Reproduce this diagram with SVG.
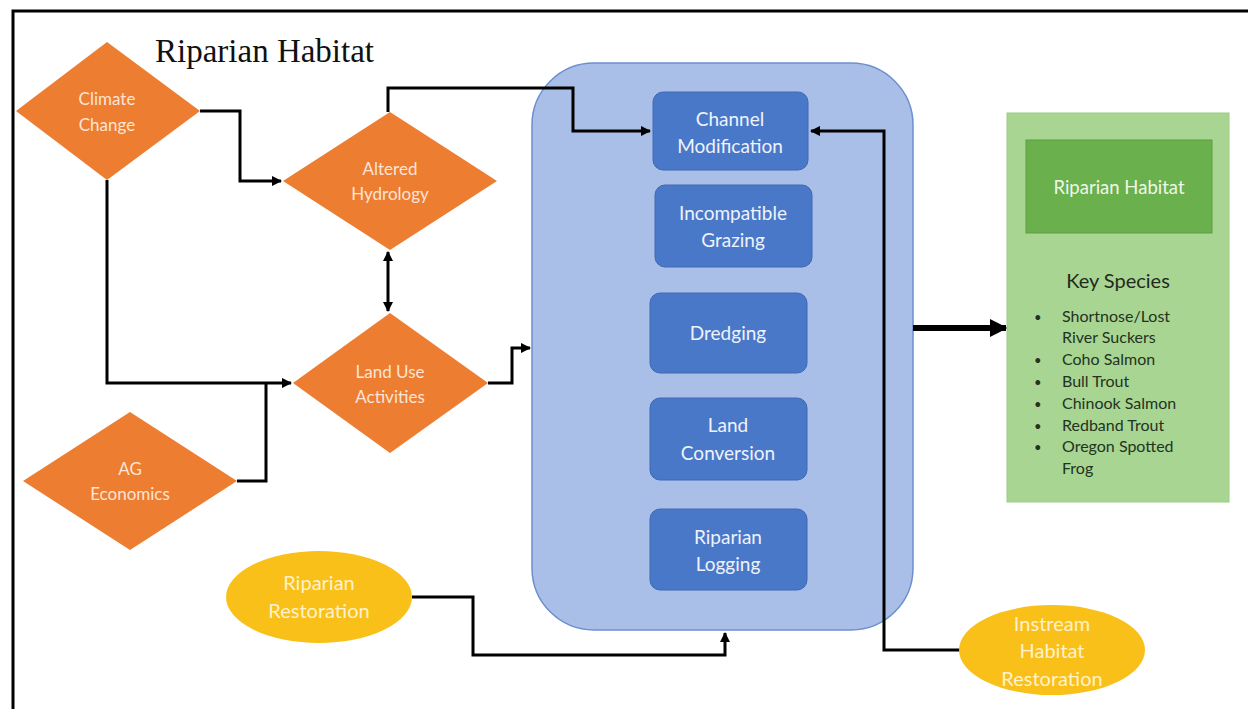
<svg xmlns="http://www.w3.org/2000/svg" width="1248" height="709" viewBox="0 0 1248 709">
<style>
.dia{fill:#ED7D31}
.dt{font-family:Lato,"Liberation Sans",sans-serif;font-size:17px;fill:#FCE4D6;text-anchor:middle}
.box{fill:#4A78C9;stroke:#3F68B3;stroke-width:1}
.bt{font-family:Lato,"Liberation Sans",sans-serif;font-size:19px;fill:#EEF3FB;text-anchor:middle}
.ell{fill:#F9C01A}
.et{font-family:Lato,"Liberation Sans",sans-serif;font-size:20px;fill:#FFF2CC;text-anchor:middle}
.con{fill:none;stroke:#000;stroke-width:3}
.sp{font-family:Lato,"Liberation Sans",sans-serif;font-size:16px;fill:#223322}
</style>
<defs>
<marker id="ah" viewBox="0 0 10 10" refX="9" refY="5" markerWidth="3.5" markerHeight="3.5" orient="auto-start-reverse" markerUnits="strokeWidth">
<path d="M0,0 L10,5 L0,10 z" fill="#000"/>
</marker>
<marker id="ahb" viewBox="0 0 10 10" refX="9" refY="5" markerWidth="3" markerHeight="3" orient="auto" markerUnits="strokeWidth">
<path d="M0,0 L10,5 L0,10 z" fill="#000"/>
</marker>
</defs>
<rect width="1248" height="709" fill="#fff"/>
<path d="M13,709 V11 H1248" fill="none" stroke="#000" stroke-width="3"/>
<text x="155" y="62" font-family="Liberation Serif,serif" font-size="33" fill="#111">Riparian Habitat</text>

<g id="container">
<rect x="532" y="63" width="381" height="567" rx="62" fill="#AABFE8" stroke="#6C8FD0" stroke-width="1.5"/>
</g>

<g id="connectors">
<path class="con" d="M200,111 H240 V181 H281" marker-end="url(#ah)"/>
<path class="con" d="M107,180 V383 H291" marker-end="url(#ah)"/>
<path class="con" d="M237,481 H266 V383"/>
<path class="con" d="M388,112 V88 H573 V131 H650" marker-end="url(#ah)"/>
<path class="con" d="M388,252 V311" marker-start="url(#ah)" marker-end="url(#ah)"/>
<path class="con" d="M488,383 H512 V348 H530" marker-end="url(#ah)"/>
<path class="con" d="M412,597 H473 V655 H725 V633" marker-end="url(#ah)"/>
<path class="con" d="M960,650 H884 V131 H811" marker-end="url(#ah)"/>
<path fill="none" stroke="#000" stroke-width="6" d="M913,328 H1006" marker-end="url(#ahb)"/>
</g>

<g id="climate-change">
<polygon class="dia" points="107,42 200,111 107,180 16,111"/>
<text class="dt" x="107" y="105">Climate</text>
<text class="dt" x="107" y="131">Change</text>
</g>
<g id="altered-hydrology">
<polygon class="dia" points="390,112 497,181 390,250 283,181"/>
<text class="dt" x="390" y="175">Altered</text>
<text class="dt" x="390" y="200">Hydrology</text>
</g>
<g id="land-use">
<polygon class="dia" points="390,313 488,383 390,453 293,383"/>
<text class="dt" x="390" y="378">Land Use</text>
<text class="dt" x="390" y="403">Activities</text>
</g>
<g id="ag-economics">
<polygon class="dia" points="130,412 237,481 130,550 23,481"/>
<text class="dt" x="130" y="475">AG</text>
<text class="dt" x="130" y="500">Economics</text>
</g>

<g id="channel-modification">
<rect class="box" x="653" y="92" width="155" height="78" rx="10"/>
<text class="bt" x="730" y="126">Channel</text>
<text class="bt" x="730" y="153">Modification</text>
</g>
<g id="incompatible-grazing">
<rect class="box" x="655" y="185" width="157" height="82" rx="10"/>
<text class="bt" x="733" y="220">Incompatible</text>
<text class="bt" x="733" y="247">Grazing</text>
</g>
<g id="dredging">
<rect class="box" x="650" y="293" width="157" height="80" rx="10"/>
<text class="bt" x="728" y="340">Dredging</text>
</g>
<g id="land-conversion">
<rect class="box" x="650" y="398" width="157" height="82" rx="10"/>
<text class="bt" x="728" y="432">Land</text>
<text class="bt" x="728" y="460">Conversion</text>
</g>
<g id="riparian-logging">
<rect class="box" x="650" y="509" width="157" height="81" rx="10"/>
<text class="bt" x="728" y="544">Riparian</text>
<text class="bt" x="728" y="571">Logging</text>
</g>

<g id="riparian-restoration">
<ellipse class="ell" cx="319" cy="597" rx="93" ry="46"/>
<text class="et" x="319" y="590">Riparian</text>
<text class="et" x="319" y="618">Restoration</text>
</g>
<g id="instream-restoration">
<ellipse class="ell" cx="1052" cy="650" rx="93" ry="45"/>
<text class="et" x="1052" y="631">Instream</text>
<text class="et" x="1052" y="658">Habitat</text>
<text class="et" x="1052" y="686">Restoration</text>
</g>

<g id="habitat-panel">
<rect x="1007" y="113" width="222" height="389" fill="#A9D592" stroke="#9CCB84" stroke-width="1"/>
<rect x="1026" y="140" width="186" height="93" fill="#6AB04C" stroke="#5E9E43" stroke-width="1"/>
<text x="1119" y="194" font-family="Lato,'Liberation Sans',sans-serif" font-size="18.5" fill="#EEF7E8" text-anchor="middle">Riparian Habitat</text>
<text x="1118" y="288" font-family="Lato,'Liberation Sans',sans-serif" font-size="20" fill="#1F2A1F" text-anchor="middle">Key Species</text>
<g class="sp">
<text x="1034" y="322" font-size="13">•</text><text x="1062" y="322">Shortnose/Lost</text>
<text x="1062" y="343">River Suckers</text>
<text x="1034" y="365" font-size="13">•</text><text x="1062" y="365">Coho Salmon</text>
<text x="1034" y="387" font-size="13">•</text><text x="1062" y="387">Bull Trout</text>
<text x="1034" y="409" font-size="13">•</text><text x="1062" y="409">Chinook Salmon</text>
<text x="1034" y="431" font-size="13">•</text><text x="1062" y="431">Redband Trout</text>
<text x="1034" y="452" font-size="13">•</text><text x="1062" y="452">Oregon Spotted</text>
<text x="1062" y="474">Frog</text>
</g>
</g>
</svg>
